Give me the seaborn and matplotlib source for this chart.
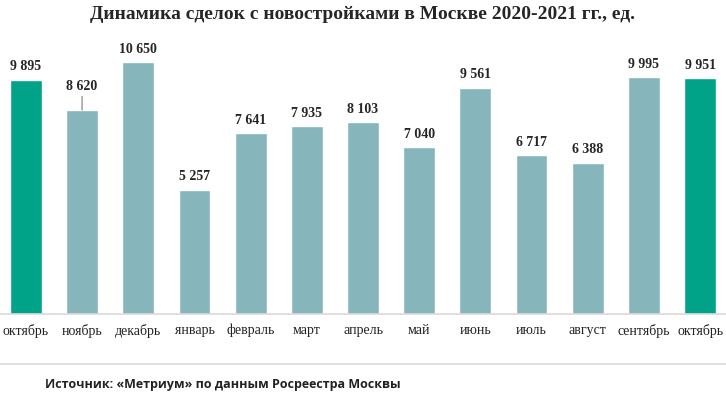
import matplotlib
matplotlib.use("Agg")
import matplotlib.pyplot as plt
import seaborn as sns
import pandas as pd

# данные
months = ["октябрь", "ноябрь", "декабрь", "январь", "февраль", "март", "апрель",
          "май", "июнь", "июль", "август", "сентябрь", "октябрь"]
deals = [9895, 8620, 10650, 5257, 7641, 7935, 8103, 7040, 9561, 6717, 6388, 9995, 9951]
highlight = [True] + [False] * 11 + [True]

green = "#00A387"
grey_teal = "#86B6BB"

df = pd.DataFrame({"pos": [str(i) for i in range(len(months))], "deals": deals})
palette = [green if h else grey_teal for h in highlight]

sns.set_style("white")
plt.rcParams["font.family"] = ["Liberation Serif", "DejaVu Serif"]

fig = plt.figure(figsize=(7.26, 3.94), dpi=100)
ax = fig.add_axes([-0.003, 0.203, 1.006, 0.721])

sns.barplot(data=df, x="pos", y="deals", hue="pos", palette=palette,
            legend=False, width=0.565, saturation=1, ax=ax)

ax.set_ylim(0, 12000)
ax.set_xlim(-0.5, 12.5)
ax.set_xticks(range(len(months)))
ax.set_xticklabels(months, fontsize=10, color="#222222")
ax.tick_params(axis="x", length=0, pad=7)
ax.set_yticks([])
ax.set_xlabel("")
ax.set_ylabel("")
for s in ["top", "left", "right"]:
    ax.spines[s].set_visible(False)
ax.spines["bottom"].set_color("#D9D9D9")
ax.spines["bottom"].set_linewidth(1.2)

# подписи значений
for i, v in enumerate(deals):
    txt = f"{v:,}".replace(",", " ")
    if i == 1:
        ax.annotate(txt, xy=(i, v), xytext=(i, v + 700), ha="center", va="bottom",
                    fontsize=10, fontweight="bold",
                    arrowprops=dict(arrowstyle="-", color="#A6A6A6", lw=1.2,
                                    shrinkA=0, shrinkB=0))
    else:
        ax.text(i, v + 270, txt, ha="center", va="bottom",
                fontsize=10, fontweight="bold")

fig.text(0.5, 0.962, "Динамика сделок с новостройками в Москве 2020-2021 гг., ед.",
         ha="center", va="center", fontsize=14, fontweight="bold")

fig.add_artist(plt.Line2D([0, 1], [0.076, 0.076], color="#D9D9D9", lw=1.2,
                          transform=fig.transFigure))
fig.text(0.062, 0.025, "Источник: «Метриум» по данным Росреестра Москвы",
         ha="left", va="center", fontsize=9, fontweight="bold",
         family=["Open Sans", "DejaVu Sans"], color="#222222")

plt.savefig("out.png", dpi=100)
